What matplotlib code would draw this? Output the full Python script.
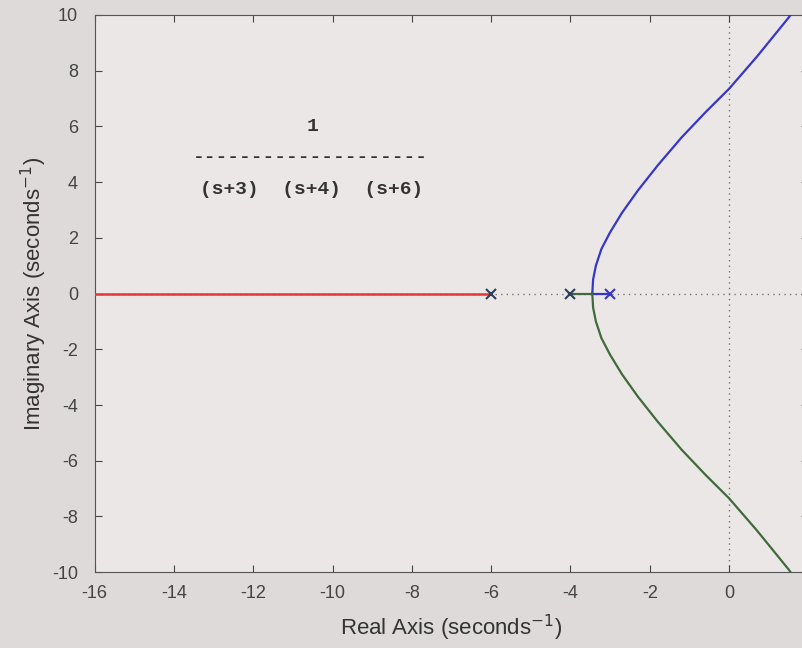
import numpy as np
import matplotlib.pyplot as plt

plt.rcParams['font.family'] = ['Liberation Sans', 'DejaVu Sans']
plt.rcParams['axes.unicode_minus'] = False

# open-loop poles of 1/((s+3)(s+4)(s+6))
poles = [-3, -4, -6]
breakaway = -3.45

# upper complex branch (real, imag)
upper_re = [-3.45, -3.43, -3.36, -3.22, -3.0, -2.7, -2.3, -1.8, -1.2, -0.6, 0.0, 0.7, 1.5, 1.7]
upper_im = [0.0, 0.5, 1.0, 1.6, 2.2, 2.9, 3.7, 4.6, 5.6, 6.5, 7.35, 8.5, 9.9, 10.3]

# real-axis branch from -6 to the left edge
red_re = [-6, -16]

xticks = [-16, -14, -12, -10, -8, -6, -4, -2, 0, 2]
yticks = [-10, -8, -6, -4, -2, 0, 2, 4, 6, 8, 10]

blue = '#3636c8'
green = '#3f6b3a'
red = '#e03838'

fig = plt.figure(figsize=(8.02, 6.48), dpi=100)
fig.patch.set_facecolor('#dedada')
ax = fig.add_axes([0.118, 0.117, 0.89, 0.86])
ax.set_facecolor('#ebe7e7')

# dotted axes lines
ax.axhline(0, color='#777777', linestyle=(0, (1, 3)), linewidth=1.0, zorder=1)
ax.axvline(0, color='#777777', linestyle=(0, (1, 3)), linewidth=1.0, zorder=1)

ax.plot(red_re, [0, 0], color=red, linewidth=1.8, zorder=3)
ax.plot([poles[1], breakaway], [0, 0], color=green, linewidth=1.6, zorder=3)
ax.plot([poles[0], breakaway], [0, 0], color=blue, linewidth=1.6, zorder=3)
ax.plot(upper_re, upper_im, color=blue, linewidth=1.6, zorder=3)
ax.plot(upper_re, [-v for v in upper_im], color=green, linewidth=1.6, zorder=3)

ax.plot([poles[0]], [0], 'x', color=blue, markersize=7, mew=1.5, zorder=4)
ax.plot([poles[1]], [0], 'x', color='#2a3f5a', markersize=7, mew=1.5, zorder=4)
ax.plot([poles[2]], [0], 'x', color='#2a3f5a', markersize=7, mew=1.5, zorder=4)

# transfer function text
mono = ['Liberation Mono', 'DejaVu Sans Mono']
ax.text(-10.5, 6.0, '1', family=mono, fontsize=14, fontweight='bold', ha='center', va='center',
        color='#333333')
ax.text(-10.56, 4.9, '-' * 20, family=mono, fontsize=14, fontweight='bold', ha='center',
        va='center', color='#333333')
ax.text(-10.53, 3.75, '(s+3)  (s+4)  (s+6)', family=mono, fontsize=14, fontweight='bold',
        ha='center', va='center', color='#333333')

ax.set_xlim(-16, 2)
ax.set_ylim(-10, 10)
ax.set_xticks(xticks)
ax.set_yticks(yticks)
ax.tick_params(direction='in', top=True, right=True, labelsize=13, colors='#444444', length=5)
ax.tick_params(axis='y', pad=12)
ax.tick_params(axis='x', pad=9)
for s in ax.spines.values():
    s.set_color('#555555')
ax.set_xlabel('Real Axis (seconds$^{-1}$)', fontsize=16, color='#333333', labelpad=8)
ax.set_ylabel('Imaginary Axis (seconds$^{-1}$)', fontsize=16, color='#333333', labelpad=2)

fig.savefig('out.png', dpi=100, facecolor=fig.get_facecolor())
